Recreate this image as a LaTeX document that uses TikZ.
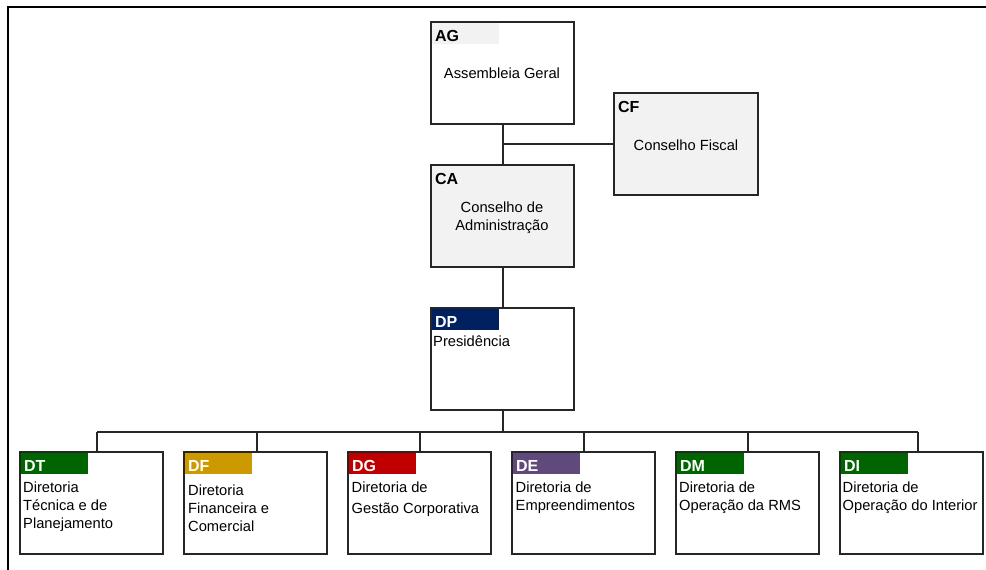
\documentclass[tikz,border=0pt]{standalone}
\usepackage{fontspec}
\setmainfont{Liberation Sans}
\definecolor{panel}{HTML}{F2F2F2}
\definecolor{navy}{HTML}{002060}
\definecolor{dgreen}{HTML}{006400}
\definecolor{gold}{HTML}{CC9900}
\definecolor{dred}{HTML}{C00000}
\definecolor{purp}{HTML}{604A7B}
\definecolor{edge}{HTML}{262626}
\begin{document}
\begin{tikzpicture}[x=1pt,y=-1pt,
  unit/.style={draw=edge, line width=2pt, anchor=north west, inner sep=0pt, outer sep=0pt,
    minimum width=143pt, minimum height=102pt},
  tab/.style={anchor=north west, fill=#1, inner xsep=3pt, inner ysep=0pt, outer sep=0pt,
    minimum height=21pt, text width=61pt, align=left, text height=15pt, text depth=0pt,
    font=\fontsize{16}{18}\selectfont\bfseries},
  body/.style={inner sep=0pt, font=\fontsize{14.7}{18}\selectfont},
  link/.style={draw=edge, line width=2pt},
]
\useasboundingbox (0,0) rectangle (986,570);

% page frame
\draw[line width=2pt] (986,6.5) -- (7.5,6.5) -- (7.5,570);

% governing bodies
\node[unit, fill=white] (ag) at (431,22) {};
\node[unit, fill=panel, minimum width=144pt] (cf) at (614,93) {};
\node[unit, fill=panel] (ca) at (431,165) {};
\node[unit, fill=white] (dp) at (431,308) {};

\node[tab=panel, text=black] (agt) at ([shift={(1,1)}]ag.north west) {AG};
\node[tab=panel, text=black] (cft) at ([shift={(1,1)}]cf.north west) {CF};
\node[tab=panel, text=black] (cat) at ([shift={(1,1)}]ca.north west) {CA};
\node[tab=navy, text=white] (dpt) at ([shift={(1,1)}]dp.north west) {DP};

\node[body, anchor=base] (agl) at (502,78) {Assembleia Geral};
\node[body, anchor=base] (cfl) at (686,150) {Conselho Fiscal};
\node[body, anchor=north, align=center] (cal) at (502,202) {Conselho de\\Administração};
\node[body, anchor=base west] (dpl) at (433,346.5) {Presidência};

% directorates
\node[unit, fill=white] (dt) at (20,452) {};
\node[unit, fill=white] (df) at (184,452) {};
\node[unit, fill=white] (dg) at (348,452) {};
\node[unit, fill=white] (de) at (512,452) {};
\node[unit, fill=white] (dm) at (676,452) {};
\node[unit, fill=white] (di) at (840,452) {};

\node[tab=dgreen, text=white] (dtt) at ([shift={(1,1)}]dt.north west) {DT};
\node[tab=gold, text=white] (dft) at ([shift={(1,1)}]df.north west) {DF};
\node[tab=dred, text=white] (dgt) at ([shift={(1,1)}]dg.north west) {DG};
\node[tab=purp, text=white] (det) at ([shift={(1,1)}]de.north west) {DE};
\node[tab=dgreen, text=white] (dmt) at ([shift={(1,1)}]dm.north west) {DM};
\node[tab=dgreen, text=white] (dit) at ([shift={(1,1)}]di.north west) {DI};

\node[body, anchor=north west, align=left] (dtl) at (23,481.5) {Diretoria\\Técnica e de\\Planejamento};
\node[body, anchor=north west, align=left] (dfl) at (188,485) {Diretoria\\Financeira e\\Comercial};
\node[body, anchor=north west, align=left, font=\fontsize{14.7}{21}\selectfont] (dgl) at (351.5,481.5) {Diretoria de\\Gestão Corporativa};
\node[body, anchor=north west, align=left] (del) at (515.5,481.5) {Diretoria de\\Empreendimentos};
\node[body, anchor=north west, align=left] (dml) at (679,481.5) {Diretoria de\\Operação da RMS};
\node[body, anchor=north west, align=left] (dil) at (842.5,481.5) {Diretoria de\\Operação do Interior};

% connectors
\draw[link] (ag.south) -- (ca.north);
\draw[link] (ag.south |- cf.west) -- (cf.west);
\draw[link] (ca.south) -- (dp.north);

\coordinate (b1) at (97,432);
\coordinate (b2) at (257,432);
\coordinate (b3) at (420,432);
\coordinate (b4) at (584,432);
\coordinate (b5) at (748,432);
\coordinate (b6) at (918,432);

\draw[link] (dp.south) -- (dp.south |- b1);
\draw[link] (b1) -- (b6);
\draw[link] (b1) -- (b1 |- dt.north);
\draw[link] (b2) -- (b2 |- df.north);
\draw[link] (b3) -- (b3 |- dg.north);
\draw[link] (b4) -- (b4 |- de.north);
\draw[link] (b5) -- (b5 |- dm.north);
\draw[link] (b6) -- (b6 |- di.north);
\end{tikzpicture}
\end{document}
